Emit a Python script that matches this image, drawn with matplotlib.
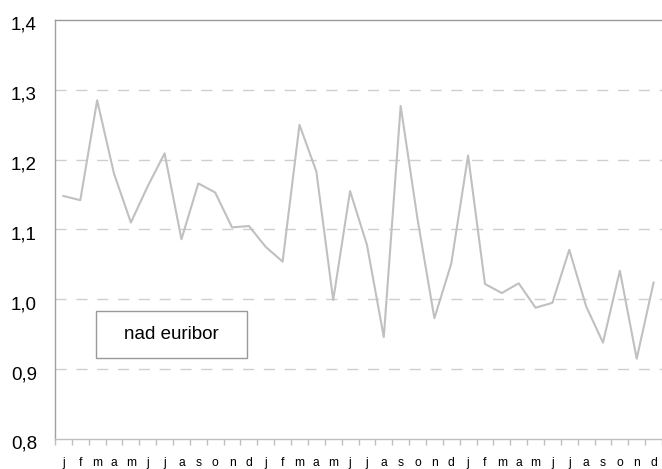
import matplotlib
matplotlib.use("Agg")
import matplotlib.pyplot as plt
import matplotlib.transforms as mtransforms
from matplotlib.ticker import FuncFormatter, FixedLocator
from matplotlib.patches import Rectangle

plt.rcParams['font.family'] = ['Liberation Sans', 'DejaVu Sans']

months = ["j", "f", "m", "a", "m", "j", "j", "a", "s", "o", "n", "d"] * 3
spread = [1.148, 1.142, 1.285, 1.180, 1.110, 1.162, 1.209, 1.086, 1.166, 1.153, 1.103, 1.105,
          1.075, 1.054, 1.250, 1.183, 0.999, 1.155, 1.078, 0.946, 1.277, 1.115, 0.973, 1.051,
          1.206, 1.022, 1.009, 1.023, 0.988, 0.995, 1.071, 0.990, 0.938, 1.041, 0.915, 1.024]
label = "nad euribor"
y_ticks = [0.8, 0.9, 1.0, 1.1, 1.2, 1.3, 1.4]

fig = plt.figure(figsize=(6.62, 4.69), dpi=100)
ax = fig.add_axes([55 / 662, 30 / 469, 607 / 662, 419 / 469])

x = list(range(len(spread)))
ax.plot(x, spread, color="#c0c0c0", lw=1.5, label=label)

ax.set_xlim(-0.5, len(spread) - 0.5)
ax.set_ylim(0.8, 1.4)

# dashed horizontal grid
for v in y_ticks[1:-1]:
    ax.axhline(v, color="#cfcfcf", lw=1.0, ls=(0, (8, 7)), zorder=0)

ax.set_yticks(y_ticks)
ax.yaxis.set_major_formatter(FuncFormatter(lambda v, p: f"{v:.1f}".replace(".", ",")))
ax.tick_params(axis="y", length=0, pad=13, labelsize=13.5, labelcolor="#000000")
shift = mtransforms.ScaledTranslation(0, -2.5 / 72, fig.dpi_scale_trans)
for lab in ax.get_yticklabels():
    lab.set_transform(lab.get_transform() + shift)

ax.set_xticks(x)
ax.set_xticklabels(months)
ax.xaxis.set_minor_locator(FixedLocator([i - 0.5 for i in range(len(spread) + 1)]))
ax.tick_params(axis="x", which="major", length=0, pad=13, labelsize=8.7)
ax.tick_params(axis="x", which="minor", length=4, width=1, color="#c0c0c0")

ax.spines["right"].set_visible(False)
ax.spines["top"].set_color("#999999")
ax.spines["left"].set_color("#a0a0a0")
ax.spines["bottom"].set_color("#c0c0c0")
for s in ("top", "left", "bottom"):
    ax.spines[s].set_linewidth(1.0)

# series label box
ax.add_patch(Rectangle((0.067, 0.194), 0.249, 0.1115, transform=ax.transAxes,
                       fill=False, edgecolor="#999999", lw=1.0))
ax.text(0.192, 0.2505, label, transform=ax.transAxes, ha="center", va="center",
        fontsize=13.5)

fig.savefig("out.png", dpi=100)
